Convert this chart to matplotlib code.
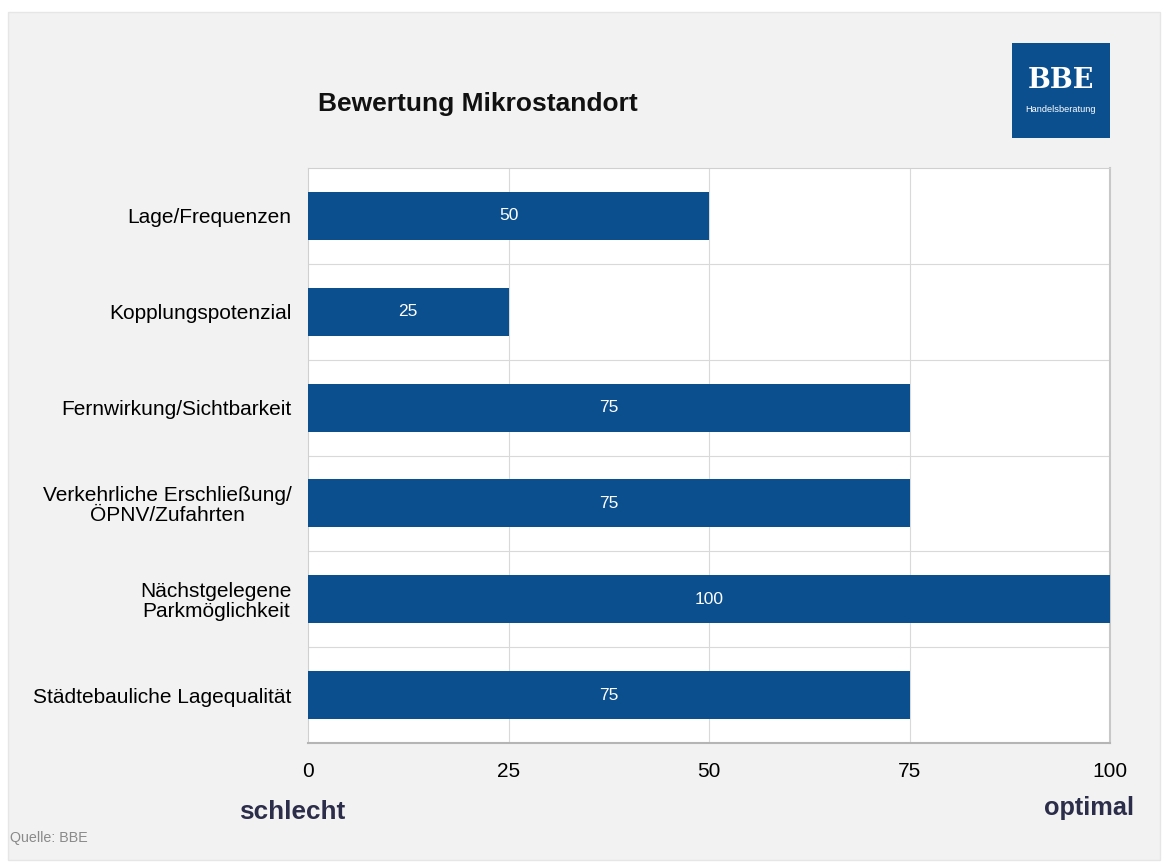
import matplotlib
matplotlib.use("Agg")
import matplotlib.pyplot as plt
from matplotlib.patches import Rectangle

plt.rcParams['font.family'] = ['Liberation Sans', 'DejaVu Sans']

categories = ["Lage/Frequenzen", "Kopplungspotenzial", "Fernwirkung/Sichtbarkeit",
              "Verkehrliche Erschließung/\nÖPNV/Zufahrten", "Nächstgelegene\nParkmöglichkeit",
              "Städtebauliche Lagequalität"]
values = [50, 25, 75, 75, 100, 75]
xticks = [0, 25, 50, 75, 100]

W, H = 1167, 867
fig = plt.figure(figsize=(W/100, H/100), dpi=100)
fig.patch.set_facecolor("white")
fig.patches.append(Rectangle((8/W, 1-860/H), (1160-8)/W, (860-12)/H, transform=fig.transFigure,
                             facecolor="#f2f2f2", edgecolor="#e6e6e6", lw=1, zorder=-5))

ax = fig.add_axes([308/W, 1-743/H, (1110-308)/W, (743-168)/H])
ax.set_zorder(1)
ax.set_facecolor("white")
n = len(categories)
ypos = list(range(n))
ax.barh(ypos, values, height=0.5, color="#0b4f8f", zorder=3)
for y, v in zip(ypos, values):
    ax.text(v/2, y, str(v), color="white", ha="center", va="center", fontsize=12.5, zorder=4)
ax.set_xlim(0, 100)
ax.set_ylim(n-0.5, -0.5)
ax.set_yticks(ypos)
ax.set_yticklabels(categories, fontsize=15, ha="right", multialignment="center", linespacing=1.05)
ax.tick_params(axis="y", length=0, pad=12)
ax.set_xticks(xticks)
ax.set_xticklabels([str(t) for t in xticks], fontsize=15)
ax.tick_params(axis="x", length=0, pad=14)
for t in xticks[1:-1]:
    ax.axvline(t, color="#d9d9d9", lw=0.8, zorder=1)
for b in range(1, n):
    ax.axhline(b-0.5, color="#d9d9d9", lw=0.8, zorder=1)
for s in ax.spines.values():
    s.set_color("#d0d0d0")
    s.set_linewidth(0.8)
ax.spines["bottom"].set_color("#b5b5b5")
ax.spines["bottom"].set_linewidth(1.5)
ax.spines["right"].set_color("#c8c8c8")
ax.spines["right"].set_linewidth(1.5)

fig.text(318/W, 1-104/H, "Bewertung Mikrostandort", fontsize=19, fontweight="bold",
         ha="left", va="center", color="#111111")
fig.text(292/W, 1-812/H, "schlecht", fontsize=18.8, fontweight="bold", ha="center", va="center", color="#2b2d4a")
fig.text(1089/W, 1-808/H, "optimal", fontsize=18.3, fontweight="bold", ha="center", va="center", color="#2b2d4a")
fig.text(10/W, 1-838/H, "Quelle: BBE", fontsize=10.3, ha="left", va="center", color="#8a8a8a")

# logo
fig.patches.append(Rectangle((1012/W, 1-138/H), 98/W, 95/H, transform=fig.transFigure,
                             facecolor="#0b4f8f", edgecolor="none", zorder=2))
fig.text(1061/W, 1-81/H, "BBE", fontsize=19.5, fontweight="bold", family="DejaVu Serif",
         ha="center", va="center", color="white", zorder=3)
fig.text(1061/W, 1-110/H, "Handelsberatung", fontsize=6.7, ha="center", va="center", color="white", zorder=3)

fig.savefig("out.png", dpi=100, facecolor=fig.get_facecolor())
